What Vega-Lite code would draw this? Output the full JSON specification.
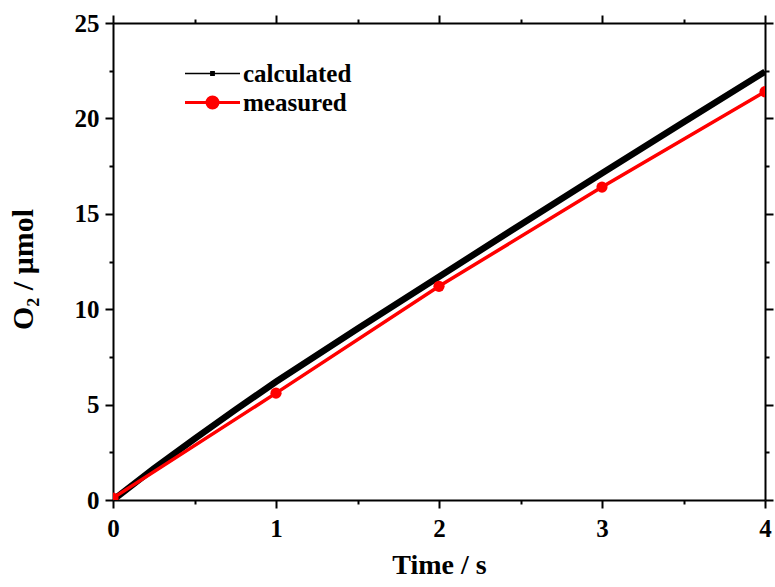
{
  "$schema": "https://vega.github.io/schema/vega-lite/v6.json",
  "width": 652,
  "height": 477,
  "autosize": {"type": "none"},
  "padding": {"left": 113, "top": 23, "right": 10, "bottom": 87},
  "background": "white",
  "config": {
    "view": {"stroke": null},
    "font": "Liberation Serif",
    "axis": {
      "grid": false,
      "domainColor": "#000000",
      "domainWidth": 2,
      "tickColor": "#000000",
      "tickWidth": 2,
      "labelFont": "Liberation Serif",
      "labelFontWeight": "bold",
      "labelFontSize": 25,
      "labelColor": "#000000",
      "titleFont": "Liberation Serif",
      "titleFontWeight": "bold",
      "titleColor": "#000000"
    }
  },
  "data": {
    "values": [
      {"t": 0, "o2": 0, "series": "calculated"},
      {"t": 0.25, "o2": 1.65, "series": "calculated"},
      {"t": 0.5, "o2": 3.2, "series": "calculated"},
      {"t": 0.75, "o2": 4.72, "series": "calculated"},
      {"t": 1, "o2": 6.2, "series": "calculated"},
      {"t": 1.5, "o2": 8.98, "series": "calculated"},
      {"t": 2, "o2": 11.7, "series": "calculated"},
      {"t": 2.5, "o2": 14.43, "series": "calculated"},
      {"t": 3, "o2": 17.13, "series": "calculated"},
      {"t": 3.5, "o2": 19.8, "series": "calculated"},
      {"t": 4, "o2": 22.45, "series": "calculated"},
      {"t": 0, "o2": 0.1, "series": "measured"},
      {"t": 1, "o2": 5.6, "series": "measured"},
      {"t": 2, "o2": 11.2, "series": "measured"},
      {"t": 3, "o2": 16.4, "series": "measured"},
      {"t": 4, "o2": 21.4, "series": "measured"}
    ]
  },
  "layer": [
    {
      "mark": {"type": "line", "clip": true},
      "encoding": {
        "x": {
          "field": "t", "type": "quantitative",
          "scale": {"domain": [0, 4], "nice": false, "zero": false},
          "axis": {
            "orient": "bottom",
            "values": [0, 0.5, 1, 1.5, 2, 2.5, 3, 3.5, 4],
            "labelExpr": "datum.value % 1 ? '' : format(datum.value, 'd')",
            "tickSize": {"expr": "datum.value % 1 ? 4 : 8"},
            "labelPadding": 8,
            "labelFlush": false,
            "labelOverlap": false,
            "title": "Time / s",
            "titleFontSize": 28,
            "titlePadding": 10
          }
        },
        "y": {
          "field": "o2", "type": "quantitative",
          "scale": {"domain": [0, 25], "nice": false, "zero": false},
          "axis": {
            "orient": "left",
            "values": [0, 2.5, 5, 7.5, 10, 12.5, 15, 17.5, 20, 22.5, 25],
            "labelExpr": "datum.value % 5 ? '' : format(datum.value, 'd')",
            "tickSize": {"expr": "datum.value % 5 ? 4 : 8"},
            "labelPadding": 6,
            "labelFlush": false,
            "labelOverlap": false,
            "title": "O₂ / μmol",
            "titleFontSize": 30,
            "titlePadding": 36,
            "titleY": 246
          }
        },
        "color": {
          "field": "series", "type": "nominal",
          "scale": {"domain": ["calculated", "measured"], "range": ["#000000", "#ff0000"]},
          "legend": {
            "title": null,
            "orient": "none",
            "legendX": 87,
            "legendY": 38,
            "labelFont": "Liberation Serif",
            "labelFontWeight": "bold",
            "labelFontSize": 25,
            "labelColor": "#000000",
            "labelOffset": 18,
            "symbolSize": 3025,
            "rowPadding": 3,
            "encode": {
              "symbols": {
                "update": {
                  "shape": {"signal": "datum.value === 'measured' ? 'M-1,0H1M0.2,0A0.2,0.2,0,1,1,-0.2,0A0.2,0.2,0,1,1,0.2,0Z' : 'M-1,0H1M-0.06,-0.06H0.06V0.06H-0.06Z'"},
                  "strokeWidth": {"signal": "datum.value === 'measured' ? 3 : 1.5"},
                  "fill": {"signal": "datum.value === 'measured' ? '#ff0000' : '#000000'"},
                  "stroke": {"signal": "datum.value === 'measured' ? '#ff0000' : '#000000'"},
                  "opacity": {"value": 1},
                  "fillOpacity": {"value": 1},
                  "strokeOpacity": {"value": 1}
                }
              }
            }
          }
        }
      }
    },
    {
      "transform": [{"filter": "datum.series === 'calculated'"}],
      "mark": {"type": "line", "clip": true, "color": "#000000", "strokeWidth": 6.5},
      "encoding": {
        "x": {"field": "t", "type": "quantitative", "axis": null},
        "y": {"field": "o2", "type": "quantitative", "axis": null}
      }
    },
    {
      "transform": [{"filter": "datum.series === 'measured'"}],
      "mark": {"type": "line", "clip": true, "color": "#ff0000", "strokeWidth": 3.5},
      "encoding": {
        "x": {"field": "t", "type": "quantitative", "axis": null},
        "y": {"field": "o2", "type": "quantitative", "axis": null}
      }
    },
    {
      "transform": [{"filter": "datum.series === 'measured'"}],
      "mark": {"type": "point", "filled": true, "shape": "circle", "size": 125, "color": "#ff0000", "opacity": 1, "clip": true},
      "encoding": {
        "x": {
          "field": "t", "type": "quantitative",
          "axis": {
            "orient": "top",
            "values": [0, 0.5, 1, 1.5, 2, 2.5, 3, 3.5, 4],
            "labels": false,
            "tickSize": {"expr": "datum.value % 1 ? 4 : 8"},
            "title": null
          }
        },
        "y": {
          "field": "o2", "type": "quantitative",
          "axis": {
            "orient": "right",
            "values": [0, 2.5, 5, 7.5, 10, 12.5, 15, 17.5, 20, 22.5, 25],
            "labels": false,
            "tickSize": {"expr": "datum.value % 5 ? 4 : 8"},
            "title": null
          }
        }
      }
    }
  ],
  "resolve": {"axis": {"x": "independent", "y": "independent"}}
}
